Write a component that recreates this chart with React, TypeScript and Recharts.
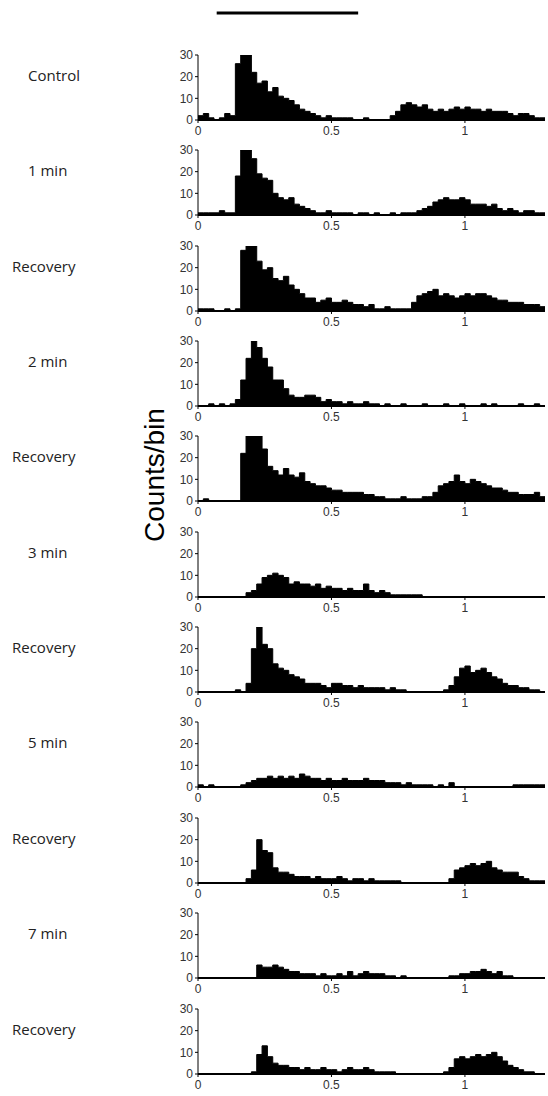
import { AreaChart, Area, LineChart, Line, XAxis, YAxis } from "recharts";

// 20 ms bins from 0 to 1.3 s, counts
const binWidth = 0.02;
const xMax = 1.3;
const xTicks = [0, 0.5, 1];
const yTicks = [0, 10, 20, 30];
const stimulus = [0.07, 0.6];

const control = [
  2, 3, 1, 0, 1, 3, 2, 26, 30, 30,
  22, 17, 18, 13, 15, 11, 10, 9, 7, 5,
  4, 3, 2, 1, 2, 1, 1, 1, 1, 0,
  0, 1, 0, 0, 0, 0, 2, 4, 7, 8,
  7, 6, 7, 5, 4, 5, 4, 5, 6, 5,
  6, 5, 5, 4, 5, 4, 4, 4, 3, 2,
  3, 3, 2, 1, 1,
];
const min1 = [
  1, 1, 1, 1, 2, 1, 1, 18, 30, 30,
  26, 19, 17, 16, 10, 8, 7, 8, 5, 4,
  3, 2, 1, 1, 2, 1, 1, 1, 1, 0,
  1, 1, 0, 1, 0, 0, 1, 0, 1, 1,
  1, 2, 3, 4, 6, 7, 8, 7, 7, 8,
  7, 5, 5, 5, 4, 5, 3, 2, 3, 2,
  1, 2, 2, 1, 1,
];
const recovery1 = [
  1, 1, 1, 0, 0, 1, 0, 1, 28, 30,
  30, 23, 19, 20, 15, 14, 16, 12, 10, 8,
  6, 6, 4, 5, 6, 4, 4, 5, 4, 3,
  3, 2, 3, 1, 1, 2, 1, 1, 1, 1,
  4, 7, 8, 9, 10, 7, 8, 7, 6, 7,
  8, 7, 8, 8, 7, 6, 5, 5, 4, 4,
  4, 3, 3, 3, 2,
];
const min2 = [
  0, 0, 1, 0, 1, 0, 1, 3, 12, 22,
  30, 27, 22, 18, 12, 12, 8, 5, 4, 4,
  5, 5, 4, 2, 3, 2, 2, 1, 2, 1,
  1, 2, 1, 1, 0, 1, 0, 0, 1, 0,
  0, 0, 1, 0, 0, 0, 1, 0, 0, 1,
  0, 0, 0, 1, 0, 1, 0, 0, 0, 0,
  1, 0, 0, 1, 0,
];
const recovery2 = [
  0, 1, 0, 0, 0, 0, 0, 0, 22, 30,
  30, 30, 24, 16, 14, 12, 15, 12, 11, 13,
  9, 8, 7, 7, 6, 5, 5, 4, 4, 4,
  4, 3, 3, 2, 2, 1, 1, 1, 2, 1,
  1, 1, 2, 2, 4, 7, 8, 9, 12, 9,
  8, 10, 9, 8, 7, 6, 6, 5, 4, 4,
  3, 3, 3, 4, 2,
];
const min3 = [
  0, 0, 0, 0, 0, 0, 0, 0, 0, 2,
  3, 6, 9, 10, 11, 10, 9, 6, 7, 6,
  6, 5, 6, 4, 5, 4, 4, 3, 4, 3,
  3, 6, 3, 2, 3, 2, 1, 1, 1, 1,
  1, 1, 0, 0, 0, 0, 0, 0, 0, 0,
  0, 0, 0, 0, 0, 0, 0, 0, 0, 0,
  0, 0, 0, 0, 0,
];
const recovery3 = [
  0, 0, 0, 0, 0, 0, 0, 1, 0, 4,
  20, 30, 22, 20, 13, 11, 10, 8, 7, 6,
  4, 4, 4, 3, 2, 4, 4, 3, 3, 2,
  3, 2, 2, 2, 2, 1, 2, 1, 1, 0,
  0, 0, 0, 0, 0, 0, 1, 3, 7, 11,
  12, 9, 10, 11, 9, 7, 6, 4, 3, 3,
  2, 2, 1, 1, 0,
];
const min5 = [
  1, 0, 1, 0, 0, 0, 0, 0, 1, 2,
  3, 4, 4, 5, 4, 5, 4, 5, 4, 6,
  5, 4, 4, 3, 4, 3, 3, 4, 3, 3,
  3, 4, 3, 3, 3, 2, 2, 2, 1, 2,
  1, 1, 1, 1, 0, 1, 0, 2, 0, 0,
  0, 0, 0, 0, 0, 0, 0, 0, 0, 1,
  1, 1, 1, 1, 1,
];
const recovery4 = [
  0, 0, 0, 0, 0, 0, 0, 0, 0, 2,
  6, 20, 15, 14, 7, 5, 5, 4, 3, 3,
  3, 2, 3, 2, 2, 2, 3, 2, 1, 2,
  2, 1, 2, 1, 1, 1, 1, 1, 0, 0,
  0, 0, 0, 0, 0, 0, 0, 2, 6, 7,
  8, 9, 8, 9, 10, 7, 6, 5, 5, 5,
  3, 2, 1, 1, 1,
];
const min7 = [
  0, 0, 0, 0, 0, 0, 0, 0, 0, 0,
  0, 6, 5, 5, 6, 5, 4, 3, 3, 2,
  2, 2, 1, 2, 1, 1, 2, 1, 3, 1,
  2, 3, 2, 2, 2, 1, 1, 0, 1, 0,
  0, 0, 0, 0, 0, 0, 0, 1, 1, 2,
  2, 3, 3, 4, 3, 2, 3, 1, 1, 0,
  0, 0, 0, 0, 0,
];
const recovery5 = [
  0, 0, 0, 0, 0, 0, 0, 0, 0, 0,
  1, 9, 13, 8, 5, 4, 4, 3, 3, 2,
  3, 2, 2, 3, 2, 2, 1, 2, 3, 2,
  2, 3, 2, 1, 1, 1, 1, 0, 0, 0,
  0, 0, 0, 0, 0, 0, 1, 3, 7, 8,
  7, 8, 9, 8, 9, 10, 8, 6, 4, 3,
  2, 1, 1, 0, 0,
];

const labels = [
  "Control", "1 min", "Recovery", "2 min", "Recovery", "3 min",
  "Recovery", "5 min", "Recovery", "7 min", "Recovery",
];
const series = [
  control, min1, recovery1, min2, recovery2, min3,
  recovery3, min5, recovery4, min7, recovery5,
];

const W = 548;
const PANEL_H = 98;
const FIRST_TOP = 47;
const STEP = 95.35;
const axisFont = "'Liberation Sans', Arial, sans-serif";

function toBins(counts: number[]) {
  const rows = counts.map((v, i) => ({ t: +(i * binWidth).toFixed(2), v }));
  // closing point so the last step reaches the axis end
  rows.push({ t: xMax, v: counts[counts.length - 1] });
  return rows;
}

function Panel({ counts }: { counts: number[] }) {
  const data = toBins(counts);
  return (
    <AreaChart width={W} height={PANEL_H} data={data} margin={{ top: 8, right: 3, left: 168, bottom: 0 }}>
      <XAxis
        dataKey="t"
        type="number"
        domain={[0, xMax]}
        ticks={xTicks}
        interval={0}
        allowDataOverflow
        height={25}
        tickSize={3}
        tickMargin={3}
        axisLine={{ stroke: "#000", strokeWidth: 2 }}
        tickLine={{ stroke: "#000" }}
        tick={{ fill: "#333", fontSize: 12, fontFamily: axisFont }}
      />
      <YAxis
        domain={[0, 30]}
        ticks={yTicks}
        interval={0}
        allowDataOverflow
        width={30}
        tickSize={3}
        tickMargin={2}
        axisLine={{ stroke: "#000" }}
        tickLine={{ stroke: "#000" }}
        tick={{ fill: "#333", fontSize: 12, fontFamily: axisFont }}
      />
      <Area
        type="stepAfter"
        dataKey="v"
        stroke="#000"
        strokeWidth={1}
        fill="#000"
        fillOpacity={1}
        isAnimationActive={false}
      />
    </AreaChart>
  );
}

export default function App() {
  const stimData = [
    { t: stimulus[0], y: 0.5 },
    { t: stimulus[1], y: 0.5 },
  ];
  return (
    <div style={{ position: "absolute", left: 0, top: 0, width: W, height: 1096, background: "#fff" }}>
      <div style={{ position: "absolute", left: 0, top: 0 }}>
        <LineChart width={W} height={26} data={stimData} margin={{ top: 0, right: 3, left: 198, bottom: 0 }}>
          <XAxis dataKey="t" type="number" domain={[0, xMax]} hide />
          <YAxis domain={[0, 1]} hide />
          <Line dataKey="y" stroke="#000" strokeWidth={3} dot={false} isAnimationActive={false} />
        </LineChart>
      </div>
      {series.map((counts, k) => {
        const top = FIRST_TOP + STEP * k;
        const label = labels[k];
        return (
          <div key={k}>
            <div
              style={{
                position: "absolute",
                left: label === "Recovery" ? 12 : 28,
                top: top + 18,
                fontFamily: "'Open Sans', sans-serif",
                fontSize: 15,
                lineHeight: "20px",
                color: "#222",
              }}
            >
              {label}
            </div>
            <div style={{ position: "absolute", left: 0, top }}>
              <Panel counts={counts} />
            </div>
          </div>
        );
      })}
      <div
        style={{
          position: "absolute",
          left: 155,
          top: 475,
          transform: "translate(-50%, -50%) rotate(-90deg)",
          whiteSpace: "nowrap",
          fontFamily: axisFont,
          fontSize: 28,
          color: "#000",
        }}
      >
        Counts/bin
      </div>
    </div>
  );
}
